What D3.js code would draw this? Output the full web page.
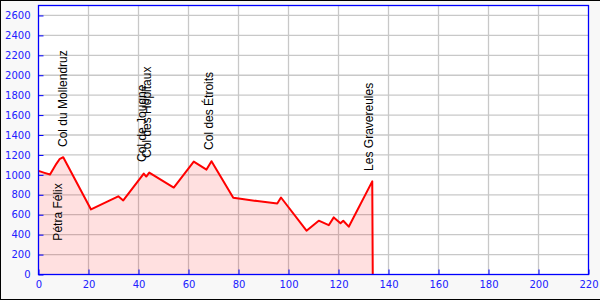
<!DOCTYPE html>
<html>
<head>
<meta charset="utf-8">
<script src="https://cdn.jsdelivr.net/npm/d3@7"></script>
<style>
  body { margin: 0; background: #f8f8f8; }
  svg { display: block; }
  .tick text { font-family: "DejaVu Sans", Verdana, sans-serif; font-size: 10px; fill: #2020ff; }
  .wp { font-family: "Liberation Sans", Arial, sans-serif; font-size: 12px; fill: #000; }
</style>
</head>
<body>
<svg width="600" height="300"></svg>
<script>
// profile: distance (km) and elevation (m)
const distKm = [0, 2.4, 4.6, 7.2, 8.4, 9.9, 21, 31.9, 33.9, 42.1, 43.1, 44.3, 54.1, 62.1, 67.2, 69.2, 77.9, 80.8, 87.5, 95.5, 97.0, 107.2, 112.1, 116.1, 118.1, 120.8, 121.9, 124.1, 133.5, 133.7];
const elevation = [1040, 1020, 1003, 1113, 1157, 1177, 653, 785, 743, 1013, 983, 1023, 873, 1133, 1053, 1137, 770, 760, 737, 713, 773, 440, 540, 495, 573, 515, 540, 480, 935, 0];

// waypoint labels
const labelNames = ["Pétra Félix", "Col du Mollendruz", "Col de Jougne", "Col des Hôpitaux", "Col des Étroits", "Les Gravereules"];
const labelKm = [7.8, 9.6, 41.4, 43.4, 68.2, 132.2];
const labelElev = [340, 1280, 1130, 1170, 1250, 1040];

const xTicks = d3.range(0, 221, 20);
const yTicks = d3.range(0, 2601, 200);

const svg = d3.select("svg");
const width = +svg.attr("width");
const height = +svg.attr("height");

svg.append("rect")
  .attr("x", 0.5).attr("y", 0.5)
  .attr("width", width).attr("height", height - 1)
  .attr("fill", "#f8f8f8")
  .attr("stroke", "#000");

const x = d3.scaleLinear().domain([0, 220]).range([38.5, 588.5]);
const y = d3.scaleLinear().domain([0, 2700]).range([274.5, 5.5]);

svg.append("rect")
  .attr("x", x(0)).attr("y", y(2700))
  .attr("width", x(220) - x(0)).attr("height", y(0) - y(2700))
  .attr("fill", "#fff");

// grid
const grid = svg.append("g").attr("stroke", "#c8c8c8").attr("stroke-width", 1.3);
grid.selectAll(".gx").data(xTicks.slice(1, -1)).join("line")
  .attr("x1", (d) => x(d)).attr("x2", (d) => x(d))
  .attr("y1", y(0)).attr("y2", y(2700));
grid.selectAll(".gy").data(yTicks.slice(1)).join("line")
  .attr("x1", x(0)).attr("x2", x(220))
  .attr("y1", (d) => y(d)).attr("y2", (d) => y(d));

const pts = distKm.map((d, i) => [d, elevation[i]]);

const area = d3.area().x((d) => x(d[0])).y0(y(0)).y1((d) => y(d[1]));
svg.append("path")
  .datum(pts)
  .attr("d", area)
  .attr("fill", "rgba(255,0,0,0.12)");

const line = d3.line().x((d) => x(d[0])).y((d) => y(d[1]));
svg.append("path")
  .datum(pts)
  .attr("d", line)
  .attr("fill", "none")
  .attr("stroke", "red")
  .attr("stroke-width", 2)
  .attr("stroke-linejoin", "round");

// labels
svg.append("g")
  .selectAll("text")
  .data(labelNames)
  .join("text")
  .attr("class", "wp")
  .attr("transform", (d, i) => `translate(${x(labelKm[i])},${y(labelElev[i])}) rotate(-90)`)
  .attr("dy", "0.35em")
  .text((d) => d);

// axes
const xAxis = d3.axisBottom(x).tickValues(xTicks).tickFormat(d3.format("d"))
  .tickSizeInner(-5).tickSizeOuter(0).tickPadding(6);
const yAxis = d3.axisLeft(y).tickValues(yTicks).tickFormat(d3.format("d"))
  .tickSizeInner(-5).tickSizeOuter(0).tickPadding(8);

const xAxisG = svg.append("g").attr("transform", `translate(0,${y(0)})`).call(xAxis);
const yAxisG = svg.append("g").attr("transform", `translate(${x(0)},0)`).call(yAxis);

[xAxisG, yAxisG].forEach((g) => {
  g.select(".domain").remove();
  g.selectAll(".tick line").attr("stroke", "blue");
});

// frame
svg.append("rect")
  .attr("x", x(0)).attr("y", y(2700))
  .attr("width", x(220) - x(0)).attr("height", y(0) - y(2700))
  .attr("fill", "none")
  .attr("stroke", "blue")
  .attr("stroke-width", 1.3);
</script>
</body>
</html>
